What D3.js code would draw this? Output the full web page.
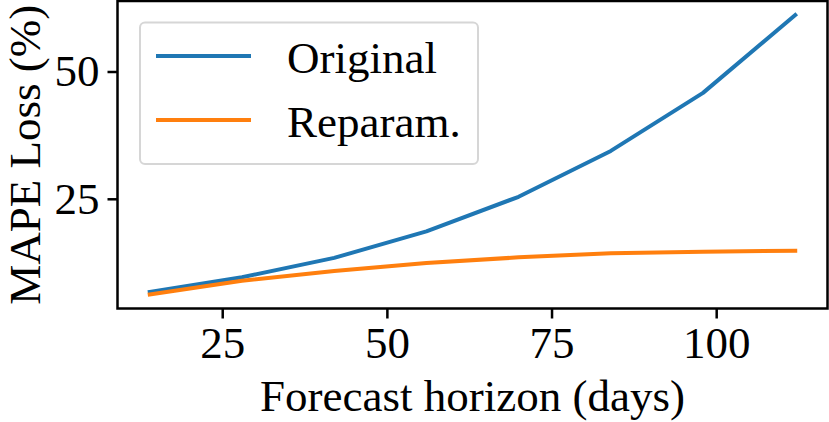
<!DOCTYPE html>
<html>
<head>
<meta charset="utf-8">
<script src="https://cdn.jsdelivr.net/npm/d3@7"></script>
<style>
  body { margin: 0; background: #fff; }
  svg { display: block; }
  svg text { font-family: 'Liberation Serif', 'Times New Roman', serif; fill: #000; }
</style>
</head>
<body>
<svg id="chart" width="829" height="422"></svg>
<script>
// forecast horizon in days
var horizons = [14, 28, 42, 56, 70, 84, 98, 112];
// MAPE loss (%)
var originalLoss = [6.7, 9.6, 13.4, 18.6, 25.4, 34.4, 45.8, 61.1];
var reparamLoss = [6.2, 8.9, 10.8, 12.4, 13.5, 14.3, 14.6, 14.8];
var xTicks = [25, 50, 75, 100];
var yTicks = [25, 50];
var seriesNames = ["Original", "Reparam."];
var seriesColors = ["#1f77b4", "#ff7f0e"];

var fontSize = 45;
var margin = {left: 117.5, right: 1.5, top: 1, bottom: 113.5};
var width = 829, height = 422;

var svg = d3.select("#chart");

// matplotlib style 5% padding around the data
function padded(lo, hi) {
    var pad = (hi - lo) * 0.05;
    return [lo - pad, hi + pad];
}

var x = d3.scaleLinear()
    .domain(padded(d3.min(horizons), d3.max(horizons)))
    .range([margin.left, width - margin.right]);

var allLoss = originalLoss.concat(reparamLoss);
var y = d3.scaleLinear()
    .domain(padded(d3.min(allLoss), d3.max(allLoss)))
    .range([height - margin.bottom, margin.top]);

var series = [originalLoss, reparamLoss];

var line = d3.line()
    .x(function (d, i) { return x(horizons[i]); })
    .y(function (d) { return y(d); });

svg.append("g").selectAll("path")
    .data(series)
    .join("path")
    .attr("d", line)
    .attr("fill", "none")
    .attr("stroke", function (d, i) { return seriesColors[i]; })
    .attr("stroke-width", 4)
    .attr("stroke-linecap", "square")
    .attr("stroke-linejoin", "round");

// axes
var xAxis = svg.append("g")
    .attr("transform", "translate(0," + (height - margin.bottom) + ")")
    .call(d3.axisBottom(x).tickValues(xTicks).tickSize(10).tickPadding(8));
var yAxis = svg.append("g")
    .attr("transform", "translate(" + margin.left + ",0)")
    .call(d3.axisLeft(y).tickValues(yTicks).tickSize(10).tickPadding(8));

[xAxis, yAxis].forEach(function (ax) {
    ax.attr("font-family", null).attr("font-size", null);
    ax.select(".domain").remove();
    ax.selectAll(".tick line").attr("stroke", "#000").attr("stroke-width", 2.5);
    ax.selectAll(".tick text")
        .style("font-family", "'Liberation Serif', serif")
        .style("font-size", fontSize + "px")
        .attr("fill", "#000");
});

// frame
svg.append("rect")
    .attr("x", margin.left)
    .attr("y", margin.top)
    .attr("width", width - margin.left - margin.right)
    .attr("height", height - margin.top - margin.bottom)
    .attr("fill", "none")
    .attr("stroke", "#000")
    .attr("stroke-width", 2.5);

// axis titles
svg.append("text")
    .attr("x", (margin.left + width - margin.right) / 2)
    .attr("y", 411)
    .attr("text-anchor", "middle")
    .style("font-size", fontSize + "px")
    .text("Forecast horizon (days)");

svg.append("text")
    .attr("transform", "translate(40," + ((margin.top + height - margin.bottom) / 2) + ") rotate(-90)")
    .attr("text-anchor", "middle")
    .style("font-size", fontSize + "px")
    .text("MAPE Loss (%)");

// legend
var legend = svg.append("g");
legend.append("rect")
    .attr("x", 140)
    .attr("y", 22.5)
    .attr("width", 338)
    .attr("height", 141.5)
    .attr("rx", 5)
    .attr("fill", "#fff")
    .attr("fill-opacity", 0.8)
    .attr("stroke", "#d6d6d6")
    .attr("stroke-width", 2);

var items = legend.selectAll("g.item")
    .data(seriesNames)
    .join("g")
    .attr("class", "item")
    .attr("transform", function (d, i) { return "translate(0," + (56 + i * 64) + ")"; });

items.append("line")
    .attr("x1", 156)
    .attr("x2", 251)
    .attr("stroke", function (d, i) { return seriesColors[i]; })
    .attr("stroke-width", 4);

items.append("text")
    .attr("x", 287)
    .attr("y", 16.5)
    .style("font-size", fontSize + "px")
    .text(function (d) { return d; });
</script>
</body>
</html>
